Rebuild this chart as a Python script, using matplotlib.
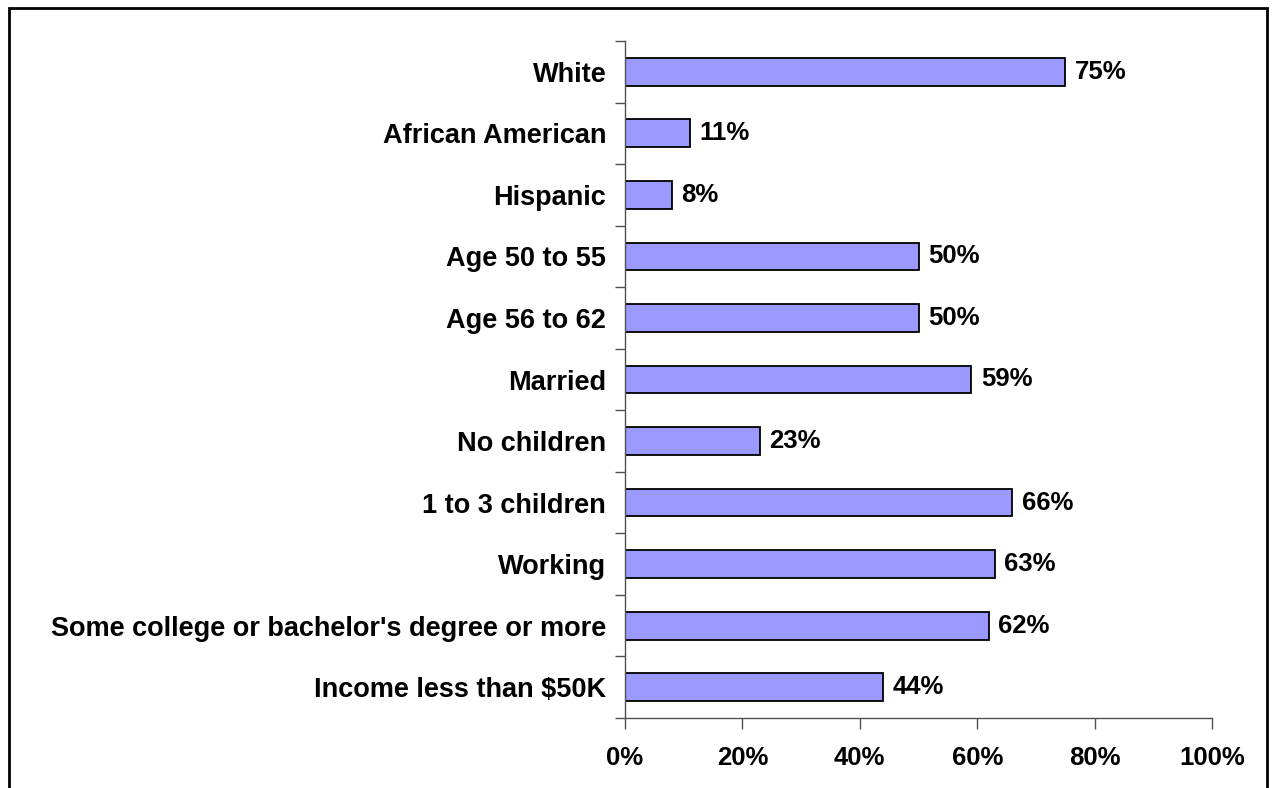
import matplotlib.pyplot as plt
from matplotlib.patches import Rectangle
from matplotlib.ticker import FixedLocator, FuncFormatter

categories = [
    "White",
    "African American",
    "Hispanic",
    "Age 50 to 55",
    "Age 56 to 62",
    "Married",
    "No children",
    "1 to 3 children",
    "Working",
    "Some college or bachelor's degree or more",
    "Income less than $50K",
]
values = [75, 11, 8, 50, 50, 59, 23, 66, 63, 62, 44]

plt.rcParams["font.family"] = ["Liberation Sans", "DejaVu Sans"]
plt.rcParams["font.weight"] = "bold"

fig = plt.figure(figsize=(12.74, 7.88), dpi=100)
ax = fig.add_axes([625 / 1274, 1 - 718 / 788, (1212 - 625) / 1274, (718 - 41) / 788])

n = len(categories)
pos = list(range(n))
ax.barh(pos, values, height=0.45, color="#9999FF", edgecolor="black", linewidth=1.3)

for p, v in zip(pos, values):
    ax.text(v + 1.6, p, f"{v}%", va="center", ha="left", fontsize=18.5, fontweight="bold")

ax.set_xlim(0, 100)
ax.set_ylim(n - 0.5, -0.5)
ax.set_yticks(pos)
ax.set_yticklabels(categories, fontsize=19.5, fontweight="bold")
ax.yaxis.set_minor_locator(FixedLocator([i - 0.5 for i in range(n + 1)]))
ax.tick_params(axis="y", which="major", length=0, pad=13.5)
ax.tick_params(axis="y", which="minor", length=7, width=1, color="#505050")

ax.set_xticks(range(0, 101, 20))
ax.xaxis.set_major_formatter(FuncFormatter(lambda x, _: f"{int(x)}%"))
ax.tick_params(axis="x", length=8, width=1, color="#505050", labelsize=18.5, pad=12)
for lab in ax.get_xticklabels():
    lab.set_fontweight("bold")

for side in ["top", "right"]:
    ax.spines[side].set_visible(False)
for side in ["left", "bottom"]:
    ax.spines[side].set_color("#505050")
    ax.spines[side].set_linewidth(1)

# outer chart frame
fig.patches.append(Rectangle((9 / 1274, -0.05), (1267 - 9) / 1274, 1.05 - 8 / 788,
                             transform=fig.transFigure, fill=False,
                             edgecolor="black", linewidth=2))

fig.savefig("out.png", dpi=100)
